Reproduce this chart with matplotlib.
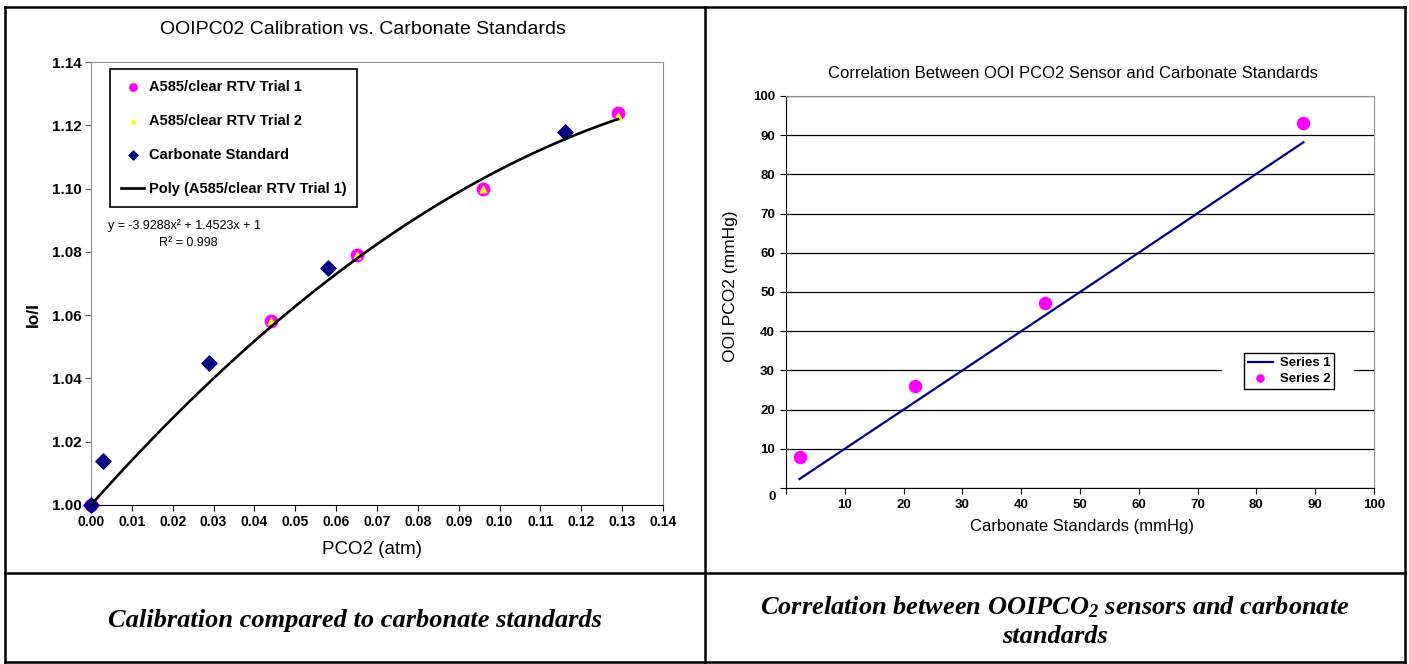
import numpy as np
import matplotlib
matplotlib.use('Agg')
import matplotlib.pyplot as plt
from matplotlib.lines import Line2D
from matplotlib.patches import Rectangle

plt.rcParams['font.family'] = ['Liberation Sans', 'DejaVu Sans']
plt.rcParams['mathtext.fontset'] = 'custom'
plt.rcParams['mathtext.it'] = 'Liberation Serif:italic:bold'
plt.rcParams['mathtext.rm'] = 'Liberation Serif:italic:bold'

# left chart data (PCO2 in atm vs Io/I)
trial1_x = [0.000, 0.044, 0.065, 0.096, 0.129]
trial1_y = [1.000, 1.058, 1.079, 1.100, 1.124]
trial2_x = [0.000, 0.044, 0.065, 0.096, 0.129]
trial2_y = [1.000, 1.058, 1.079, 1.100, 1.123]
carb_x = [0.000, 0.003, 0.029, 0.058, 0.116]
carb_y = [1.000, 1.014, 1.045, 1.075, 1.118]
poly_coef = [-3.9288, 1.4523, 1.0]   # trendline shown on the chart
r2 = 0.998

# right chart data (mmHg)
s1_x = [2.3, 22, 44, 53, 88]
s1_y = [2.3, 22, 44, 53, 88.2]
s2_x = [2.3, 22, 44, 88]
s2_y = [8.0, 26.0, 47.3, 93.0]

W, H = 1409, 664
fig = plt.figure(figsize=(W / 100, H / 100), dpi=100)


def box(x0, y0, x1, y1):
    # pixel box (top-left origin) -> figure fraction rect
    return [x0 / W, 1 - y1 / H, (x1 - x0) / W, (y1 - y0) / H]


# ---------- left chart ----------
ax1 = fig.add_axes(box(91, 62, 663, 505))
ax1.scatter(trial1_x, trial1_y, s=80, color='#ff00ff', marker='o', zorder=3,
            clip_on=False, label='A585/clear RTV Trial 1')
ax1.scatter(trial2_x, trial2_y, s=22, color='#ffff00', marker='^', zorder=4,
            clip_on=False, label='A585/clear RTV Trial 2')
ax1.scatter(carb_x, carb_y, s=60, color='#000080', marker='D', zorder=5,
            clip_on=False, label='Carbonate Standard')
xf = np.linspace(0, max(trial1_x), 100)
ax1.plot(xf, np.polyval(poly_coef, xf), color='black', lw=1.9, zorder=6,
         label='Poly (A585/clear RTV Trial 1)')

ax1.set_xlim(0, 0.14)
ax1.set_ylim(1.00, 1.14)
ax1.set_xticks(np.arange(0, 0.1401, 0.01))
ax1.set_yticks(np.arange(1.00, 1.1401, 0.02))
ax1.set_xticklabels(['%.2f' % v for v in np.arange(0, 0.1401, 0.01)],
                    fontsize=10, fontweight='bold')
ax1.set_yticklabels(['%.2f' % v for v in np.arange(1.00, 1.1401, 0.02)],
                    fontsize=11, fontweight='bold')
ax1.tick_params(direction='out', length=4, width=0.8, colors='#606060',
                labelcolor='black', pad=3)
ax1.tick_params(axis='x', colors='black', labelcolor='black')
for s in ['top', 'right', 'left']:
    ax1.spines[s].set_color('#909090')
ax1.spines['bottom'].set_color('black')

ax1.set_title('OOIPC02 Calibration vs. Carbonate Standards', fontsize=14,
              x=(363 - 91) / 572, y=1 + (62 - 29) / 443, pad=0, va='center')
ax1.set_xlabel('PCO2 (atm)', fontsize=13.5, va='center')
ax1.xaxis.set_label_coords((372 - 91) / 572, (505 - 550) / 443)
ax1.set_ylabel('Io/I', fontsize=12.5, fontweight='bold', va='center')
ax1.yaxis.set_label_coords((33 - 91) / 572, (505 - 315) / 443)

leg1 = ax1.legend(loc='upper left', bbox_to_anchor=((110 - 91) / 572, (505 - 69) / 443),
                  borderaxespad=0, fancybox=False, edgecolor='black',
                  prop={'size': 10.5, 'weight': 'bold'}, labelspacing=1.38,
                  handlelength=1.6, handletextpad=0.3, borderpad=0.75,
                  markerscale=0.6)
leg1.get_frame().set_linewidth(1.2)
leg1.get_frame().set_alpha(1)

eq = 'y = %.4fx² + %.4fx + %g' % tuple(poly_coef)
ax1.text((108 - 91) / 572, (505 - 226) / 443, eq, transform=ax1.transAxes,
         fontsize=9, va='center')
ax1.text((159 - 91) / 572, (505 - 243) / 443, 'R² = %.3f' % r2,
         transform=ax1.transAxes, fontsize=9, va='center')

# ---------- right chart ----------
ax2 = fig.add_axes(box(786, 96, 1374, 488))
ax2.plot(s1_x, s1_y, color='#000080', lw=1.6, label='Series 1', zorder=3)
ax2.scatter(s2_x, s2_y, s=75, color='#ff00ff', label='Series 2', zorder=4)

ax2.set_xlim(0, 100)
ax2.set_ylim(0, 100)
ax2.set_xticks(range(0, 101, 10))
ax2.set_xticklabels([''] + [str(v) for v in range(10, 101, 10)],
                    fontsize=9.5, fontweight='bold')
ax2.set_yticks(range(0, 101, 10))
ax2.set_yticklabels([''] + [str(v) for v in range(10, 101, 10)],
                    fontsize=9.5, fontweight='bold')
ax2.annotate('0', xy=(0, 0), xycoords='data', xytext=(-14, -9),
             textcoords='offset pixels', fontsize=9.5, fontweight='bold',
             ha='center', va='center')
ax2.tick_params(direction='out', length=4, width=0.8, pad=4)
ax2.yaxis.grid(True, color='black', lw=0.9)
ax2.set_axisbelow(True)
for s in ['top', 'right']:
    ax2.spines[s].set_color('#909090')

ax2.set_title('Correlation Between OOI PCO2 Sensor and Carbonate Standards',
              fontsize=12, x=(1073 - 786) / 588, y=1 + (96 - 73) / 392,
              pad=0, va='center')
ax2.set_xlabel('Carbonate Standards (mmHg)', fontsize=12, va='center')
ax2.xaxis.set_label_coords((1082 - 786) / 588, (488 - 527) / 392)
ax2.set_ylabel('OOI PCO2 (mmHg)', fontsize=12.5, va='center')
ax2.yaxis.set_label_coords((730 - 786) / 588, (488 - 286) / 392)

# white area around the legend that hides the gridline
ax2.add_patch(Rectangle(((1222 - 786) / 588, (488 - 392) / 392), (1353 - 1222) / 588,
                        44 / 392, transform=ax2.transAxes, color='white', zorder=1))
leg2 = ax2.legend(loc='upper left', bbox_to_anchor=((1244 - 786) / 588, (488 - 353) / 392),
                  borderaxespad=0, fancybox=False, edgecolor='black',
                  prop={'size': 9.5, 'weight': 'bold'}, labelspacing=0.25,
                  handlelength=1.9, handletextpad=0.5, borderpad=0.3,
                  markerscale=0.6)
leg2.get_frame().set_linewidth(1.0)
leg2.get_frame().set_alpha(1)
leg2.set_zorder(5)

# ---------- table frame and captions ----------
lw = 1.8
for (x0, y0, x1, y1) in [(5, 7, 1405, 7), (5, 662, 1405, 662), (5, 573, 1405, 573),
                         (5, 7, 5, 662), (1405, 7, 1405, 662), (705, 7, 705, 662)]:
    fig.add_artist(Line2D([x0 / W, x1 / W], [1 - y0 / H, 1 - y1 / H],
                          color='black', lw=lw))

fig.text(355 / W, 1 - 621 / H, 'Calibration compared to carbonate standards',
         family='Liberation Serif', style='italic', weight='bold', fontsize=19,
         ha='center', va='center')
fig.text(1055 / W, 1 - 621 / H,
         'Correlation between OOIPCO$_2$ sensors and carbonate\nstandards',
         family='Liberation Serif', style='italic', weight='bold', fontsize=19,
         ha='center', va='center', ma='center', linespacing=1.25)

fig.savefig('out.png', dpi=100)
